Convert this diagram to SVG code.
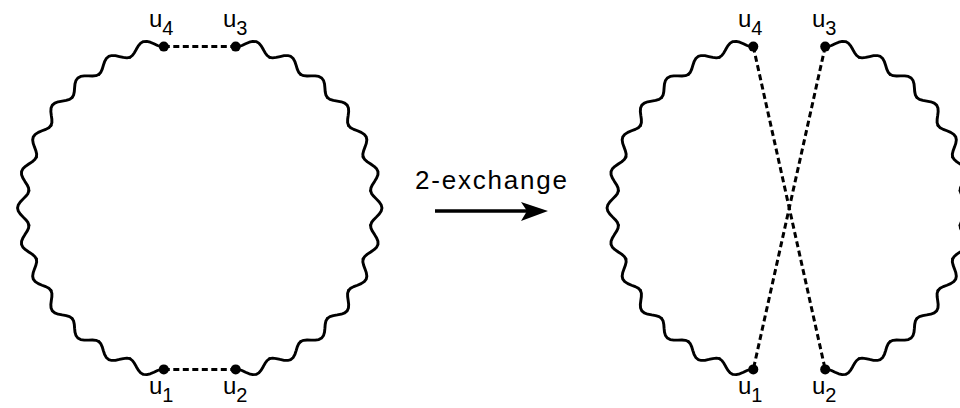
<svg xmlns="http://www.w3.org/2000/svg" xmlns:xlink="http://www.w3.org/1999/xlink" width="960" height="408" viewBox="0 0 960 408">
<style>
.wave{fill:none;stroke:#000;stroke-width:2.8;stroke-linejoin:round;stroke-linecap:round}
.dash{fill:none;stroke:#000;stroke-width:3;stroke-dasharray:6 3.5}
.dot{fill:#000}
.lbl{font-family:"Liberation Sans",Arial,sans-serif;font-size:24px;fill:#000}
.sub{font-size:20px}
.cap{font-family:"Liberation Sans",Arial,sans-serif;font-size:26px;letter-spacing:1.8px;fill:#000}
</style>
<defs>
<polyline id="per" class="wave" points="0,-165 -2.891,-165.645 -5.846,-167.398 -8.897,-169.767 -12.033,-172.080 -15.194,-173.666 -18.292,-174.041 -21.245,-173.030 -24.007,-170.821 -26.594,-167.907 -29.086,-164.955 -31.611,-162.627 -34.305,-161.394"/>
<g id="half">
<use href="#per" transform="rotate(-12)"/>
<use href="#per" transform="rotate(-24)"/>
<use href="#per" transform="rotate(-36)"/>
<use href="#per" transform="rotate(-48)"/>
<use href="#per" transform="rotate(-60)"/>
<use href="#per" transform="rotate(-72)"/>
<use href="#per" transform="rotate(-84)"/>
<use href="#per" transform="rotate(-96)"/>
<use href="#per" transform="rotate(-108)"/>
<use href="#per" transform="rotate(-120)"/>
<use href="#per" transform="rotate(-132)"/>
<use href="#per" transform="rotate(-144)"/>
<use href="#per" transform="rotate(-156)"/>
</g>
</defs>
<g id="connectors">
<use href="#half" transform="translate(199.75,208) scale(1.0412,1)"/>
<use href="#half" transform="translate(199.75,208) scale(-1.0412,1)"/>
<line class="dash" x1="163.8" y1="46.6" x2="235.7" y2="46.6"/>
<line class="dash" x1="163.8" y1="369.4" x2="235.7" y2="369.4"/>
<use href="#half" transform="translate(789.25,208) scale(1.0412,1)"/>
<use href="#half" transform="translate(789.25,208) scale(-1.0412,1)"/>
<line class="dash" x1="753.3" y1="46.6" x2="825.2" y2="369.4"/>
<line class="dash" x1="825.2" y1="46.6" x2="753.3" y2="369.4"/>
</g>
<g id="L-u4"><circle class="dot" cx="163.8" cy="46.6" r="5"/><text class="lbl" x="149" y="27">u<tspan class="sub" dy="8">4</tspan></text></g>
<g id="L-u3"><circle class="dot" cx="235.7" cy="46.6" r="5"/><text class="lbl" x="223" y="27">u<tspan class="sub" dy="8">3</tspan></text></g>
<g id="L-u1"><circle class="dot" cx="163.8" cy="369.4" r="5"/><text class="lbl" x="149" y="394">u<tspan class="sub" dy="8">1</tspan></text></g>
<g id="L-u2"><circle class="dot" cx="235.7" cy="369.4" r="5"/><text class="lbl" x="223" y="394">u<tspan class="sub" dy="8">2</tspan></text></g>
<g id="R-u4"><circle class="dot" cx="753.3" cy="46.6" r="5"/><text class="lbl" x="738" y="27">u<tspan class="sub" dy="8">4</tspan></text></g>
<g id="R-u3"><circle class="dot" cx="825.2" cy="46.6" r="5"/><text class="lbl" x="812" y="27">u<tspan class="sub" dy="8">3</tspan></text></g>
<g id="R-u1"><circle class="dot" cx="753.3" cy="369.4" r="5"/><text class="lbl" x="738" y="394">u<tspan class="sub" dy="8">1</tspan></text></g>
<g id="R-u2"><circle class="dot" cx="825.2" cy="369.4" r="5"/><text class="lbl" x="812" y="394">u<tspan class="sub" dy="8">2</tspan></text></g>
<g id="exchange">
<text class="cap" x="415" y="189">2-exchange</text>
<line x1="435" y1="211" x2="530" y2="211" stroke="#000" stroke-width="3.5"/>
<polygon points="548,211 521,202 527,211 521,221" fill="#000"/>
</g>
</svg>
